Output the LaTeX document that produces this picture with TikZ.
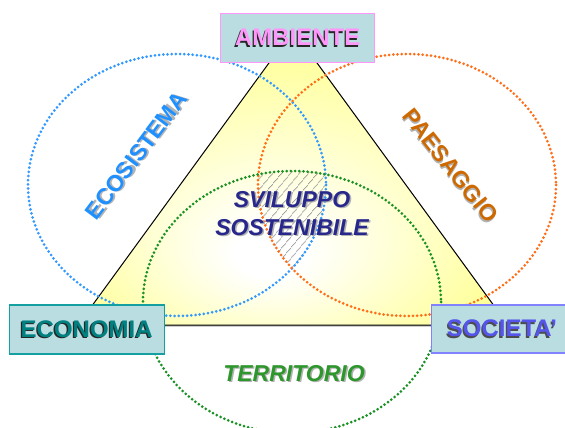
\documentclass[tikz,border=0pt]{standalone}
\usepackage{fontspec}
\setmainfont{Liberation Sans}
\usetikzlibrary{patterns.meta}
\definecolor{boxfill}{RGB}{185,221,225}
\definecolor{yel}{RGB}{255,255,145}
\definecolor{ecoblue}{RGB}{51,153,255}
\definecolor{paeor}{RGB}{255,110,25}
\definecolor{tergreen}{RGB}{25,145,35}
\definecolor{ambpink}{RGB}{255,150,250}
\definecolor{ecoteal}{RGB}{0,128,128}
\definecolor{ecoborder}{RGB}{20,160,160}
\definecolor{socblue}{RGB}{85,85,235}
\definecolor{socborder}{RGB}{130,130,255}
\definecolor{navy}{RGB}{40,40,140}
\definecolor{labeco}{RGB}{30,144,255}
\definecolor{labpae}{RGB}{205,105,0}
\definecolor{labter}{RGB}{45,150,45}
\pgfdeclareradialshading{triyel}{\pgfpoint{-3bp}{-14bp}}{color(0bp)=(white); color(4bp)=(white); color(30bp)=(yel); color(50bp)=(yel)}
% shadow colour, horizontal shift, vertical drop, text
\newcommand\shtext[4]{\rlap{\kern#2\raisebox{-#3}{\textcolor{#1}{#4}}}#4}
\tikzset{
  circdot/.style={line width=3pt, line cap=round, dash pattern=on 0pt off 4.2pt},
  boxnode/.style={draw, line width=1.2pt, fill=boxfill, minimum height=49pt, inner sep=0pt,
    font=\fontsize{24}{26}\selectfont\bfseries},
  lab/.style={font=\fontsize{23}{25}\selectfont\bfseries, inner sep=0pt},
  ilab/.style={font=\fontsize{23}{28}\selectfont\bfseries\itshape, inner sep=0pt, align=center}
}
\begin{document}
\begin{tikzpicture}[x=1pt,y=-1pt]
\useasboundingbox (0,0) rectangle (565,428);
\clip (0,0) rectangle (565,428);
% triangle shadow and body
\fill[black!30] (294.5,31.5) -- (509.5,326.5) -- (79.5,326.5) -- cycle;
\path[shading=triyel, draw=black, line width=1pt] (293,30) -- (508,325) -- (78,325) -- cycle;
% hatched triple intersection
\begin{scope}
  \clip (177,185) ellipse [x radius=149, y radius=131];
  \clip (407,185) ellipse [x radius=149, y radius=131];
  \fill[pattern={Lines[angle=50,distance=6.5pt,line width=0.7pt]}, pattern color=black!60]
    (292,302) ellipse [x radius=149, y radius=131];
\end{scope}
% circles
\draw[circdot, ecoblue] (177,185) ellipse [x radius=149, y radius=131];
\draw[circdot, paeor] (407,185) ellipse [x radius=149, y radius=131];
\draw[circdot, tergreen] (292,302) ellipse [x radius=149, y radius=131];
% boxes
\node[boxnode, draw=ambpink, text=ambpink, minimum width=154pt] (amb) at (297.7,38) {\shtext{black!85}{-1.3pt}{1.5pt}{AMBIENTE}};
\node[boxnode, draw=ecoborder, text=ecoteal, minimum width=155pt] (eco) at (86.7,329.5) {\shtext{black!85}{-1.3pt}{1.5pt}{ECONOMIA}};
\node[boxnode, draw=socborder, text=socblue, minimum width=141pt, minimum height=48pt] (soc) at (502,329) {\shtext{black!70}{-1.3pt}{1.5pt}{SOCIETA’}};
% labels
\node[lab, text=labeco, rotate=53] (lecos) at (137,156) {\shtext{black!30}{1.5pt}{1.5pt}{ECOSISTEMA}};
\node[lab, text=labpae, rotate=-51.5] (lpaes) at (450,166) {\shtext{black!30}{1.5pt}{1.5pt}{PAESAGGIO}};
\node[ilab, text=labter] (lterr) at (294,374) {\shtext{black!30}{1.5pt}{1.5pt}{TERRITORIO}};
\node[ilab, text=navy] (lsvil) at (292,214) {\shtext{black!30}{1.5pt}{1.5pt}{SVILUPPO}\\\shtext{black!30}{1.5pt}{1.5pt}{SOSTENIBILE}};
\end{tikzpicture}
\end{document}
